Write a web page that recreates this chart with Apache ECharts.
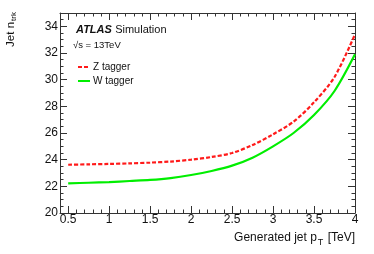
<!DOCTYPE html>
<html><head><meta charset="utf-8">
<script src="https://cdn.jsdelivr.net/npm/echarts@6/dist/echarts.min.js"></script>
<style>html,body{margin:0;padding:0;background:#fff}#c{width:374px;height:254px}</style>
</head><body><div id="c"></div>
<script>
var pT = [0.5, 0.75, 1.0, 1.25, 1.5, 1.75, 2.0, 2.25, 2.5, 2.75, 3.0, 3.25, 3.5, 3.75, 4.0];
var zTagger = [23.62, 23.65, 23.68, 23.72, 23.78, 23.86, 24.0, 24.2, 24.5, 25.1, 25.9, 26.85, 28.3, 30.2, 33.4];
var wTagger = [22.22, 22.27, 22.32, 22.4, 22.48, 22.62, 22.85, 23.15, 23.55, 24.15, 25.0, 26.0, 27.35, 29.15, 31.9];
var xMajorTicks = [0.5, 1, 1.5, 2, 2.5, 3, 3.5, 4];
var yTickLabels = [20, 22, 24, 26, 28, 30, 32, 34];

var FONT = 'Liberation Sans, Arial, Helvetica, sans-serif';
var AX = '#333';
function pairs(xs, ys){ return xs.map(function(x,i){ return [x, ys[i]]; }); }

function xAx(pos, major, labels){
  var a = {
    type: 'value', position: pos, min: 0.4, max: 4,
    axisLine: {show: !major, lineStyle: {color: AX, width: 1}},
    splitLine: {show: false},
    axisLabel: {show: false}
  };
  if (major) {
    a.axisTick = {show: true, inside: true, length: 7, customValues: xMajorTicks, lineStyle: {color: AX}};
    if (labels) a.axisLabel = {show: true, customValues: xMajorTicks, color: '#111', fontSize: 12, fontFamily: FONT, margin: 1,
      formatter: function(v){ return String(v); }};
  } else {
    a.interval = 0.1;
    a.axisTick = {show: true, inside: true, length: 3.5, lineStyle: {color: AX}};
  }
  return a;
}
function yAx(pos, labels){
  var a = {
    type: 'value', position: pos, min: 20, max: 35, interval: 2,
    axisLine: {show: true, lineStyle: {color: AX, width: 1}},
    splitLine: {show: false},
    axisTick: {show: true, inside: true, length: 7, lineStyle: {color: AX}},
    minorTick: {show: true, splitNumber: 4, length: 3.5, lineStyle: {color: AX}},
    axisLabel: {show: labels, showMaxLabel: false, color: '#111', fontSize: 12, fontFamily: FONT, margin: 2,
      padding: [6, 0, 0, 0],
      formatter: function(v){ return yTickLabels.indexOf(v) >= 0 ? String(v) : ''; }}
  };
  if (labels) {
    a.name = '{n|Jet n}{s|trk}';
    a.nameLocation = 'middle';
    a.nameGap = 42;
    a.nameRotate = 90;
    a.nameTextStyle = {padding: [0, 0, 0, 167], rich: {
      n: {fontSize: 11.5, fontFamily: FONT, color: '#111'},
      s: {fontSize: 8, fontFamily: FONT, color: '#111', padding: [6, 0, 0, 1]}}};
  }
  return a;
}

var chart = echarts.init(document.getElementById('c'), null, {renderer: 'canvas'});
chart.setOption({
  animation: false,
  backgroundColor: '#fff',
  grid: {left: 60, right: 19, top: 13, bottom: 41, containLabel: false, outerBoundsMode: 'none'},
  xAxis: [xAx('bottom', false), xAx('bottom', true, true), xAx('top', false), xAx('top', true, false)],
  yAxis: [yAx('left', true), yAx('right', false)],
  legend: {
    orient: 'vertical', left: 77, top: 61, padding: 0, itemWidth: 12, itemHeight: 12, itemGap: 2,
    itemStyle: {opacity: 0, borderWidth: 0},
    textStyle: {fontSize: 10, lineHeight: 12, fontFamily: FONT, color: '#111', padding: [0, 0, 0, -2]},
    data: ['Z tagger', 'W tagger']
  },
  series: [
    {name: 'Z tagger', type: 'line', xAxisIndex: 0, yAxisIndex: 0, smooth: 0.3, symbol: 'none',
     lineStyle: {color: '#ff1a1a', width: 2.2, type: [4, 2]}, itemStyle: {color: '#ff1a1a'},
     data: pairs(pT, zTagger)},
    {name: 'W tagger', type: 'line', xAxisIndex: 0, yAxisIndex: 0, smooth: 0.3, symbol: 'none',
     lineStyle: {color: '#00ee00', width: 2.2}, itemStyle: {color: '#00ee00'},
     data: pairs(pT, wTagger)}
  ],
  graphic: [
    {type: 'text', left: 76, top: 23.5, style: {
      text: '{b|ATLAS} {n|Simulation}',
      rich: {b: {fontSize: 11, fontWeight: 'bold', fontStyle: 'italic', fontFamily: FONT, fill: '#111'},
             n: {fontSize: 11, fontFamily: FONT, fill: '#111'}}}},
    {type: 'text', left: 73, top: 40, style: {text: '\u221As = 13TeV', fontSize: 9.5, fontFamily: FONT, fill: '#111'}},
    {type: 'text', right: 19, top: 231.5, style: {
      text: '{n|Generated jet p}{s|T}{n| [TeV]}',
      rich: {n: {fontSize: 12, fontFamily: FONT, fill: '#111', verticalAlign: 'top'},
             s: {fontSize: 9, fontFamily: FONT, fill: '#111', padding: [7,1,0,1]}}}}
  ]
});
</script></body></html>
